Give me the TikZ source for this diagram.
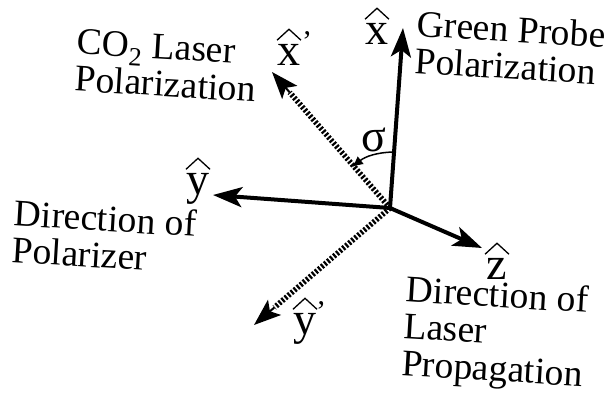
\documentclass[tikz,border=0pt]{standalone}
\usepackage{fontspec}
\setmainfont{Liberation Serif}
\usepackage{tikz}
\usetikzlibrary{positioning, arrows.meta, calc}

\begin{document}
\begin{tikzpicture}[
    x=1pt, y=-1pt,
    axis/.style={line width=4pt, -{Stealth[length=29pt, width=20pt, inset=7pt]}},
    dotaxis/.style={line width=5.5pt, dash pattern=on 2.2pt off 1.8pt},
    dottip/.style={line width=2pt, -{Stealth[length=27pt, width=20pt, inset=6pt]}},
    anglearc/.style={line width=1.5pt, -{Latex[length=11pt, width=10pt]}},
    hatline/.style={line width=1.3pt},
    varlabel/.style={font=\fontsize{46}{46}\selectfont, inner sep=0pt},
    primelabel/.style={font=\fontsize{30}{30}\selectfont, inner sep=0pt},
    textlabel/.style={font=\fontsize{37.5}{37}\selectfont, inner sep=0pt, align=left, rotate=-3.5, anchor=north west}
]
\useasboundingbox (0,0) rectangle (607,401);

% Punkte
\coordinate (o) at (390,208);
\coordinate (xtip) at (403,28);
\coordinate (ztip) at (482,248);
\coordinate (ytip) at (213,195);
\coordinate (xptip) at (272,72);
\coordinate (yptip) at (254,325);
\coordinate (xpstop) at ($(o)!0.85!(xptip)$);
\coordinate (ypstop) at ($(o)!0.85!(yptip)$);
\coordinate (arcstart) at (393,152);
\coordinate (arcend) at (352,167);

% Achsen
\draw[axis] (o) -- (xtip);
\draw[axis] (o) -- (ztip);
\draw[axis] (o) -- (ytip);
\draw[dotaxis] (o) -- (xpstop);
\draw[dotaxis] (o) -- (ypstop);
\draw[dottip] (xpstop) -- (xptip);
\draw[dottip] (ypstop) -- (yptip);
\draw[anglearc] (arcstart) to[bend right=18] (arcend);

% Beschriftung
\node[varlabel] (xlabel) at (377,34) {x};
\node[varlabel] (xplabel) at (289,55) {x};
\node[primelabel] (xprime) at (307,42) {'};
\node[varlabel] (ylabel) at (198,189) {y};
\node[varlabel] (yplabel) at (305,329) {y};
\node[primelabel] (yprime) at (321,312) {'};
\node[varlabel] (zlabel) at (497,269) {z};
\node[varlabel] (sigma) at (374,140) {σ};

% Dächer
\foreach \n in {xlabel, xplabel, ylabel, yplabel, zlabel}
    \draw[hatline] ($(\n.north)+(-12,-4)$) -- ++(12,-11) -- ++(12,11);

\node[textlabel] (green) at (418,10) {Green Probe\\Polarization};
\node[textlabel] (co2) at (78,29) {CO\textsubscript{2} Laser\\Polarization};
\node[textlabel] (pol) at (15,199) {Direction of\\Polarizer};
\node[textlabel] (prop) at (407,275) {Direction of\\Laser\\Propagation};

\end{tikzpicture}
\end{document}
